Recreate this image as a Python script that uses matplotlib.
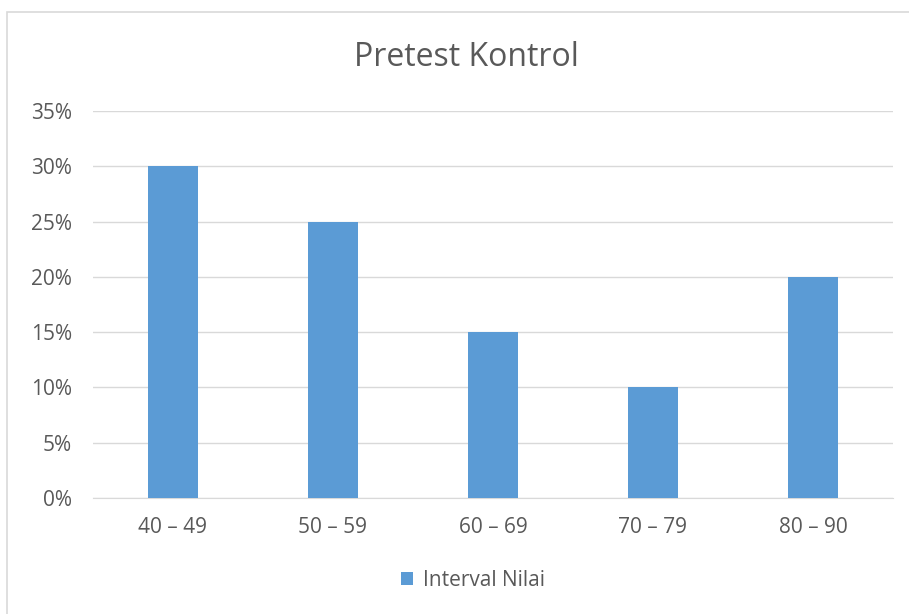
import matplotlib
matplotlib.use("Agg")
import matplotlib.pyplot as plt
from matplotlib.patches import Rectangle
from matplotlib.ticker import FuncFormatter

categories = ["40 – 49", "50 – 59", "60 – 69", "70 – 79", "80 – 90"]
values = [0.30, 0.25, 0.15, 0.10, 0.20]
series_name = "Interval Nilai"
yticks = [0, 0.05, 0.10, 0.15, 0.20, 0.25, 0.30, 0.35]

plt.rcParams['font.family'] = ['Open Sans', 'DejaVu Sans']
txt = '#595959'
bar_color = '#5B9BD5'

fig = plt.figure(figsize=(9.09, 6.14), dpi=100)
fig.patches.append(Rectangle((7/909, -0.1), 1.2, 1 - 12/614 + 0.1, transform=fig.transFigure,
                             fill=False, edgecolor='#D9D9D9', linewidth=1.2))
ax = fig.add_axes([93/909, 1 - 498/614, 800/909, 387/614])

x = range(len(categories))
ax.bar(x, values, width=0.31, color=bar_color, label=series_name, zorder=3)
ax.set_xlim(-0.5, len(categories) - 0.5)
ax.set_ylim(0, 0.35)
ax.set_yticks(yticks)
ax.yaxis.set_major_formatter(FuncFormatter(lambda v, p: f"{round(v*100)}%"))
ax.set_xticks(list(x))
ax.set_xticklabels(categories)
ax.grid(axis='y', color='#D9D9D9', linewidth=1, zorder=0)
for s in ['top', 'right', 'left']:
    ax.spines[s].set_visible(False)
ax.spines['bottom'].set_color('#D9D9D9')
ax.tick_params(axis='both', length=0, colors=txt, labelsize=15)
ax.tick_params(axis='x', pad=14)
ax.tick_params(axis='y', pad=15)

fig.text(466/909, 1 - 57/614, "Pretest Kontrol", ha='center', va='center', fontsize=23, color=txt)
leg = fig.legend(loc='center', bbox_to_anchor=(473/909, 1 - 580/614), frameon=False,
                 fontsize=15, handlelength=0.6, handleheight=0.6, handletextpad=0.5)
for t in leg.get_texts():
    t.set_color(txt)

fig.savefig("out.png", dpi=100)
